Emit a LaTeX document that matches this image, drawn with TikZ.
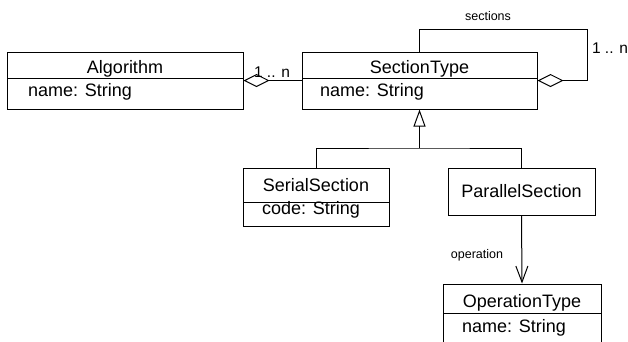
\documentclass[tikz,border=0pt]{standalone}
\usepackage{fontspec}
\setmainfont{Liberation Sans}
\usetikzlibrary{arrows.meta}

\tikzset{
  umlbox/.style={draw=black, line width=1pt, rectangle, inner sep=0pt},
  classtext/.style={inner sep=0pt, anchor=base, font=\fontsize{18}{20}\selectfont},
  attrtext/.style={inner sep=0pt, anchor=base west, font=\fontsize{18}{20}\selectfont},
  multtext/.style={inner sep=0pt, anchor=base, font=\fontsize{15.5}{17}\selectfont},
  roletext/.style={inner sep=0pt, font=\fontsize{12.5}{14}\selectfont},
  conn/.style={draw=black, line width=1pt},
  aggr/.style={conn, -{Diamond[open, length=26pt, width=13pt, line width=1pt]}},
  inherit/.style={conn, -{Triangle[open, length=17pt, width=12pt, line width=1pt]}},
  navig/.style={conn, -{Straight Barb[length=16pt, width=12pt, line width=1pt]}},
}

\begin{document}
\begin{tikzpicture}[x=1pt, y=-1pt]
  \clip (0,0) rectangle (628,341);
  \useasboundingbox (0,0) rectangle (628,341);

  % class boxes
  \node[umlbox, minimum width=236pt, minimum height=57pt] (alg) at (125,80.5) {};
  \node[umlbox, minimum width=235pt, minimum height=57pt] (sec) at (419.5,80.5) {};
  \node[umlbox, minimum width=146pt, minimum height=58pt] (ser) at (316,197) {};
  \node[umlbox, minimum width=147pt, minimum height=47pt] (par) at (521.5,191.5) {};
  \node[umlbox, minimum width=158pt, minimum height=70pt] (op) at (522,319) {};

  % compartment dividers
  \draw[conn] (7,78) -- (243,78);
  \draw[conn] (302,78.5) -- (537,78.5);
  \draw[conn] (243,202) -- (389,202);
  \draw[conn] (443,313) -- (601,313);

  % class names and attributes
  \node[classtext] (algname) at (125,73) {Algorithm};
  \node[attrtext] (algattr) at (28,96) {name: String};
  \node[classtext] (secname) at (419.5,73) {SectionType};
  \node[attrtext] (secattr) at (320,96) {name: String};
  \node[classtext] (sername) at (316,191) {SerialSection};
  \node[attrtext] (serattr) at (262,214) {code: String};
  \node[classtext] (parname) at (521.5,197) {ParallelSection};
  \node[classtext] (opname) at (522,307) {OperationType};
  \node[attrtext] (opattr) at (462,332) {name: String};

  % aggregation Algorithm -- SectionType
  \draw[aggr] (sec.west) -- (alg.east);
  \node[multtext] (m1) at (272,77) {1 .. n};

  % recursive aggregation on SectionType
  \coordinate (loopc) at (587,29);
  \draw[aggr] (sec.north) |- (loopc) |- (sec.east);
  \node[roletext] (secrole) at (488,16) {sections};
  \node[multtext] (m2) at (610,53) {1 .. n};

  % generalisation
  \coordinate (junc) at (419.5,148);
  \draw[conn] (ser.north) |- (junc) -| (par.north);
  \draw[inherit] (junc) -- (sec.south);

  % navigable association
  \draw[navig] (par.south) -- (op.north);
  \node[roletext] (oprole) at (477,255) {operation};
\end{tikzpicture}
\end{document}
